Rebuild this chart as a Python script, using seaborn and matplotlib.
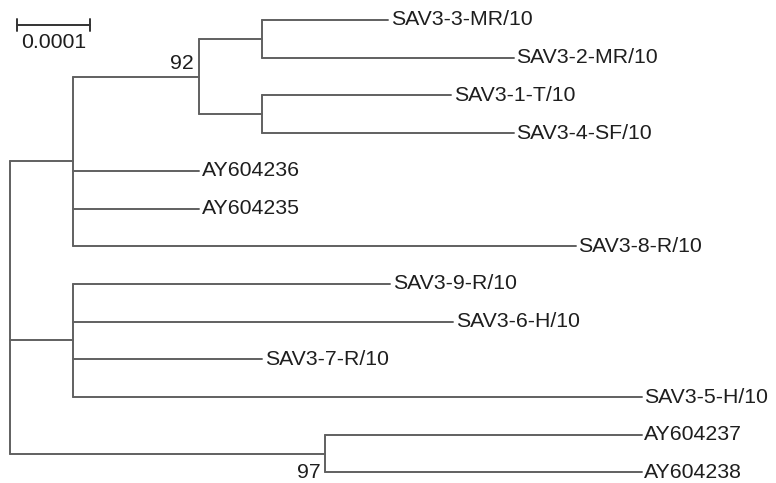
import matplotlib
matplotlib.use("Agg")
import matplotlib.pyplot as plt
import seaborn as sns
import pandas as pd

# ---- data -------------------------------------------------------------
# tree nodes (name, parent, branch length in substitutions/site)
node_names = ["root", "A", "N92", "S1", "S2",
              "SAV3-3-MR/10", "SAV3-2-MR/10", "SAV3-1-T/10", "SAV3-4-SF/10",
              "AY604236", "AY604235", "SAV3-8-R/10",
              "B", "SAV3-9-R/10", "SAV3-6-H/10", "SAV3-7-R/10", "SAV3-5-H/10",
              "C", "AY604237", "AY604238"]
node_parent = [None, "root", "A", "N92", "N92",
               "S1", "S1", "S2", "S2",
               "A", "A", "A",
               "root", "B", "B", "B", "B",
               "root", "C", "C"]
branch_len = [0.0, 0.86e-4, 1.72e-4, 0.86e-4, 0.86e-4,
              1.72e-4, 3.43e-4, 2.58e-4, 3.43e-4,
              1.72e-4, 1.72e-4, 6.86e-4,
              0.86e-4, 4.33e-4, 5.19e-4, 2.58e-4, 7.76e-4,
              4.30e-4, 4.32e-4, 4.32e-4]
support_nodes = ["N92", "C"]
support_values = ["92", "97"]
scale_value = 0.0001
scale_label = "0.0001"

# ---- layout -----------------------------------------------------------
sns.set_theme(style="white")
plt.rcParams["font.family"] = ["Liberation Sans", "DejaVu Sans"]

W, H = 776, 483
fig = plt.figure(figsize=(W / 100, H / 100), dpi=100)
ax = fig.add_axes([0, 0, 1, 1])

children = {n: [] for n in node_names}
blen = dict(zip(node_names, branch_len))
for n, p in zip(node_names, node_parent):
    if p is not None:
        children[p].append(n)

xpos, ypos = {}, {}
leaf_counter = [0]


def place(n, x):
    xpos[n] = x + blen[n]
    if children[n]:
        for c in children[n]:
            place(c, xpos[n])
        ypos[n] = (ypos[children[n][0]] + ypos[children[n][-1]]) / 2
    else:
        ypos[n] = leaf_counter[0]
        leaf_counter[0] += 1


place("root", 0.0)

rows = []
seg = 0
for n, p in zip(node_names, node_parent):
    if p is not None:
        rows += [dict(seg=seg, x=xpos[p], y=ypos[n]), dict(seg=seg, x=xpos[n], y=ypos[n])]
        seg += 1
    if children[n]:
        c0, c1 = children[n][0], children[n][-1]
        rows += [dict(seg=seg, x=xpos[n], y=ypos[c0]), dict(seg=seg, x=xpos[n], y=ypos[c1])]
        seg += 1
df = pd.DataFrame(rows)

line_color = "#606060"
sns.lineplot(data=df, x="x", y="y", units="seg", estimator=None, sort=False,
             color=line_color, lw=1.4, ax=ax, legend=False)

# axis mapping: root at px 10, 1e-4 = 73.3 px; leaf 0 at px 20, step 37.7 px
ppu = 73.3 / 1e-4
x0px = 10
ax.set_xlim(-x0px / ppu, (W - x0px) / ppu)
y0px, ystep = 20, 37.7
ax.set_ylim((H - y0px) / ystep, -y0px / ystep)
ax.axis("off")

dx = 2.5 / ppu
fs = 15.3
txt_color = "#1e1e1e"
for n in node_names:
    if not children[n]:
        ax.text(xpos[n] + dx, ypos[n], n, ha="left", va="center",
                fontsize=fs, color=txt_color)

# support values
n92 = "N92"
ax.text(xpos[n92] - 5 / ppu, ypos[n92] - 4 / ystep, support_values[0],
        ha="right", va="bottom", fontsize=fs, color=txt_color)
nc = "C"
ax.text(xpos[nc] - 4 / ppu, ypos[children[nc][-1]], support_values[1],
        ha="right", va="center", fontsize=fs, color=txt_color)

# scale bar
sx0 = (16.7 - x0px) / ppu
sy = (25 - y0px) / ystep
tick = 6 / ystep
sb = pd.DataFrame(dict(seg=[0, 0, 1, 1, 2, 2],
                       x=[sx0, sx0 + scale_value, sx0, sx0, sx0 + scale_value, sx0 + scale_value],
                       y=[sy, sy, sy - tick, sy + tick, sy - tick, sy + tick]))
sns.lineplot(data=sb, x="x", y="y", units="seg", estimator=None, sort=False,
             color="#333333", lw=1.4, ax=ax, legend=False)
ax.text(sx0 + scale_value / 2, sy + 8 / ystep, scale_label, ha="center", va="top",
        fontsize=fs, color=txt_color)

fig.savefig("out.png", dpi=100)
